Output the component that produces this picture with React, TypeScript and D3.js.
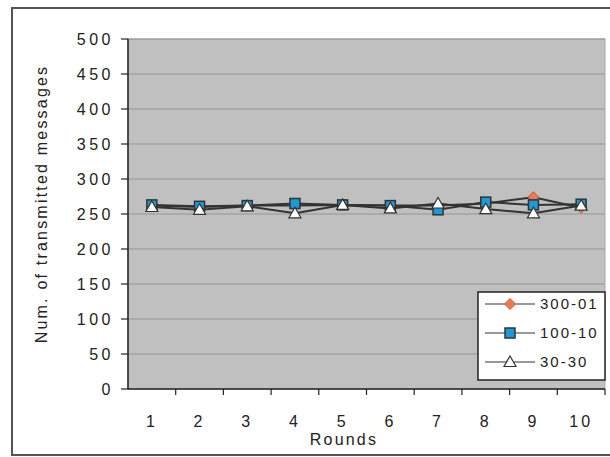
import React from "react";
import * as d3 from "d3";

const rounds = ["1", "2", "3", "4", "5", "6", "7", "8", "9", "10"];
const yTicks = [0, 50, 100, 150, 200, 250, 300, 350, 400, 450, 500];
const series300_01 = [262, 260, 262, 262, 263, 262, 262, 265, 274, 259];
const series100_10 = [263, 261, 262, 265, 263, 262, 256, 267, 263, 264];
const series30_30 = [260, 256, 261, 251, 263, 258, 265, 257, 251, 262];
const seriesNames = ["300-01", "100-10", "30-30"];

const W = 610;
const H = 457;
const plot = { left: 128, right: 605, top: 39, bottom: 389 };
const FONT = "'Liberation Sans', Arial, sans-serif";

const x = d3.scaleBand<string>().domain(rounds).range([plot.left, plot.right]);
const y = d3.scaleLinear().domain([0, 500]).range([plot.bottom, plot.top]);

const line = d3
  .line<number>()
  .x((_, i) => (x(rounds[i]) as number) + x.bandwidth() / 2)
  .y((v) => y(v));

type MarkerKind = "diamond" | "square" | "triangle";

function Marker({ kind, cx, cy }: { kind: MarkerKind; cx: number; cy: number }) {
  if (kind === "diamond") {
    const r = 5.5;
    return (
      <path
        d={`M${cx},${cy - r}L${cx + r},${cy}L${cx},${cy + r}L${cx - r},${cy}Z`}
        fill="#f07850"
        stroke="#c85a3a"
        strokeWidth={1}
      />
    );
  }
  if (kind === "square") {
    const s = 10;
    return (
      <rect
        x={cx - s / 2}
        y={cy - s / 2}
        width={s}
        height={s}
        fill="#1a9ad8"
        stroke="#333"
        strokeWidth={1.5}
      />
    );
  }
  const r = 6;
  return (
    <path
      d={`M${cx},${cy - r}L${cx + r},${cy + r * 0.75}L${cx - r},${cy + r * 0.75}Z`}
      fill="#ffffff"
      stroke="#333"
      strokeWidth={1.2}
    />
  );
}

const seriesList: { name: string; values: number[]; kind: MarkerKind }[] = [
  { name: seriesNames[0], values: series300_01, kind: "diamond" },
  { name: seriesNames[1], values: series100_10, kind: "square" },
  { name: seriesNames[2], values: series30_30, kind: "triangle" },
];

export default function App() {
  const legend = { x: 478, y: 292, w: 127, h: 88 };
  return (
    <svg
      width={W}
      height={H}
      style={{ position: "absolute", left: 0, top: 0, background: "#fff" }}
      fontFamily={FONT}
    >
      {/* outer chart frame */}
      <rect x={12} y={8} width={W + 10} height={447} fill="#fff" stroke="#555" strokeWidth={2} />

      {/* plot area */}
      <rect
        x={plot.left}
        y={plot.top}
        width={plot.right - plot.left}
        height={plot.bottom - plot.top}
        fill="#c0c0c0"
        stroke="#a8a8a8"
        strokeWidth={1}
      />
      {yTicks.slice(1).map((t) => (
        <line key={t} x1={plot.left} x2={plot.right} y1={y(t)} y2={y(t)} stroke="#959595" strokeWidth={1} />
      ))}

      {/* y axis */}
      <line x1={plot.left} x2={plot.left} y1={plot.top} y2={plot.bottom} stroke="#222" strokeWidth={1.5} />
      {yTicks.map((t) => (
        <g key={t}>
          <line x1={plot.left - 7} x2={plot.left} y1={y(t)} y2={y(t)} stroke="#222" strokeWidth={1.2} />
          <text
            x={plot.left - 14}
            y={y(t)}
            dy="0.36em"
            textAnchor="end"
            fontSize={16}
            letterSpacing={3.5}
            fill="#222"
          >
            {t}
          </text>
        </g>
      ))}
      <text
        transform={`translate(47,204) rotate(-90)`}
        textAnchor="middle"
        fontSize={16}
        letterSpacing={2.2}
        fill="#222"
      >
        Num. of transmitted messages
      </text>

      {/* x axis */}
      <line x1={plot.left} x2={plot.right} y1={plot.bottom} y2={plot.bottom} stroke="#222" strokeWidth={1.5} />
      {rounds.map((r) => (
        <line
          key={"t" + r}
          x1={(x(r) as number) + x.bandwidth()}
          x2={(x(r) as number) + x.bandwidth()}
          y1={plot.bottom}
          y2={plot.bottom + 6}
          stroke="#222"
          strokeWidth={1.2}
        />
      ))}
      {rounds.map((r) => (
        <text
          key={"l" + r}
          x={(x(r) as number) + x.bandwidth() / 2}
          y={427}
          textAnchor="middle"
          fontSize={16}
          letterSpacing={3}
          fill="#222"
        >
          {r}
        </text>
      ))}
      <text x={344} y={445} textAnchor="middle" fontSize={16} letterSpacing={2.2} fill="#222">
        Rounds
      </text>

      {/* series */}
      {seriesList.map((s) => (
        <g key={s.name}>
          <path d={line(s.values) || ""} fill="none" stroke="#333" strokeWidth={2} />
          {s.values.map((v, i) => (
            <Marker
              key={i}
              kind={s.kind}
              cx={(x(rounds[i]) as number) + x.bandwidth() / 2}
              cy={y(v)}
            />
          ))}
        </g>
      ))}

      {/* legend */}
      <rect x={legend.x} y={legend.y} width={legend.w} height={legend.h} fill="#fff" stroke="#222" strokeWidth={1.5} />
      {seriesList.map((s, i) => {
        const ly = legend.y + 12 + i * 29;
        return (
          <g key={"lg" + s.name}>
            <line x1={485} x2={535} y1={ly} y2={ly} stroke="#333" strokeWidth={1.2} />
            <Marker kind={s.kind} cx={510} cy={ly} />
            <text x={540} y={ly} dy="0.36em" fontSize={15} letterSpacing={2} fill="#222">
              {s.name}
            </text>
          </g>
        );
      })}
    </svg>
  );
}
